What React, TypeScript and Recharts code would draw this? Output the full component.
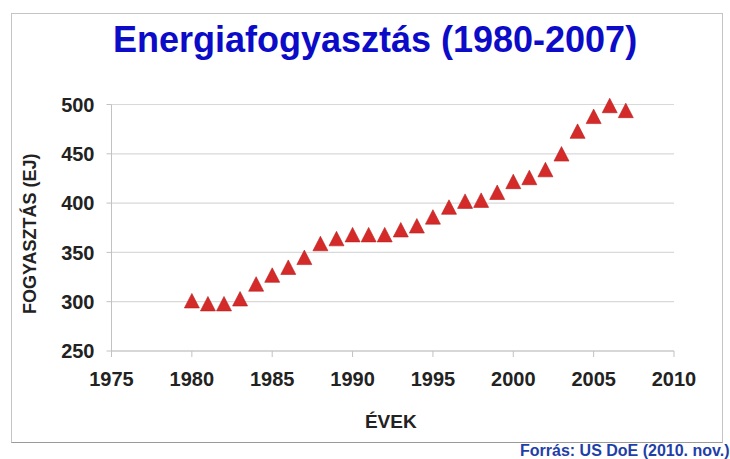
import React from 'react';
import {
  ScatterChart,
  Scatter,
  XAxis,
  YAxis,
  CartesianGrid,
} from 'recharts';

const years = [
  1980, 1981, 1982, 1983, 1984, 1985, 1986, 1987, 1988, 1989,
  1990, 1991, 1992, 1993, 1994, 1995, 1996, 1997, 1998, 1999,
  2000, 2001, 2002, 2003, 2004, 2005, 2006, 2007,
];
const consumption = [
  301, 298, 298, 303, 318, 327, 335, 345, 359, 364,
  368, 368, 368, 373, 377, 386, 396, 402, 403, 411,
  422, 426, 434, 450, 473, 488, 499, 494,
];
const xTicks = [1975, 1980, 1985, 1990, 1995, 2000, 2005, 2010];
const yTicks = [250, 300, 350, 400, 450, 500];

const data = years.map((year, i) => ({ year, value: consumption[i] }));

const FONT = '"Liberation Sans", Arial, sans-serif';

const Triangle = (props: { cx?: number; cy?: number }) => {
  const { cx, cy } = props;
  if (cx == null || cy == null) return null;
  const w = 15;
  const h = 14.5;
  const pts = `${cx},${cy - h / 2} ${cx + w / 2},${cy + h / 2} ${cx - w / 2},${cy + h / 2}`;
  return <polygon points={pts} fill="#d42a2a" stroke="#b81e1e" strokeWidth={0.6} />;
};

export default function App() {
  return (
    <div style={{ position: 'absolute', left: 0, top: 0, width: 730, height: 459, background: '#fff', fontFamily: FONT, overflow: 'hidden' }}>
      <div
        style={{
          position: 'absolute',
          left: 11,
          top: 13,
          width: 712,
          height: 430,
          border: '1px solid #c4c4c4',
          borderBottomColor: '#9a9a9a',
          boxSizing: 'border-box',
        }}
      />
      <div
        style={{
          position: 'absolute',
          left: 0,
          top: 19,
          width: 750,
          textAlign: 'center',
          fontSize: 36,
          fontWeight: 'bold',
          color: '#0b0bc8',
          lineHeight: '42px',
        }}
      >
        Energiafogyasztás (1980-2007)
      </div>
      <div style={{ position: 'absolute', left: 0, top: 0 }}>
        <ScatterChart width={730} height={459} margin={{ top: 104.5, right: 56, bottom: 8, left: 0 }}>
          <CartesianGrid horizontal vertical={false} stroke="#d9d9d9" strokeWidth={1.2} />
          <XAxis
            type="number"
            dataKey="year"
            domain={[1975, 2010]}
            ticks={xTicks}
            interval={0}
            height={100}
            stroke="#c2c2c2"
            tickSize={6}
            tickMargin={15}
            tick={{ fill: '#222', fontSize: 20, fontWeight: 'bold', fontFamily: FONT }}
            label={{ value: 'ÉVEK', position: 'insideTop', offset: 64, dx: -2, fill: '#222', fontSize: 19, fontWeight: 'bold', fontFamily: FONT }}
          />
          <YAxis
            type="number"
            dataKey="value"
            domain={[250, 500]}
            ticks={yTicks}
            interval={0}
            width={111.5}
            stroke="#c2c2c2"
            tickSize={5}
            tickMargin={12}
            tick={{ fill: '#222', fontSize: 20, fontWeight: 'bold', fontFamily: FONT }}
            label={{ value: 'FOGYASZTÁS (EJ)', angle: -90, position: 'insideLeft', offset: 30, dy: 6, fill: '#222', fontSize: 18, fontWeight: 'bold', fontFamily: FONT, style: { textAnchor: 'middle' } }}
          />
          <Scatter data={data} shape={Triangle} isAnimationActive={false} />
        </ScatterChart>
      </div>
      <div
        style={{
          position: 'absolute',
          left: 520,
          top: 442,
          fontSize: 16,
          fontWeight: 'bold',
          color: '#1f3fa8',
          whiteSpace: 'nowrap',
          lineHeight: '18px',
        }}
      >
        Forrás: US DoE (2010. nov.)
      </div>
    </div>
  );
}
